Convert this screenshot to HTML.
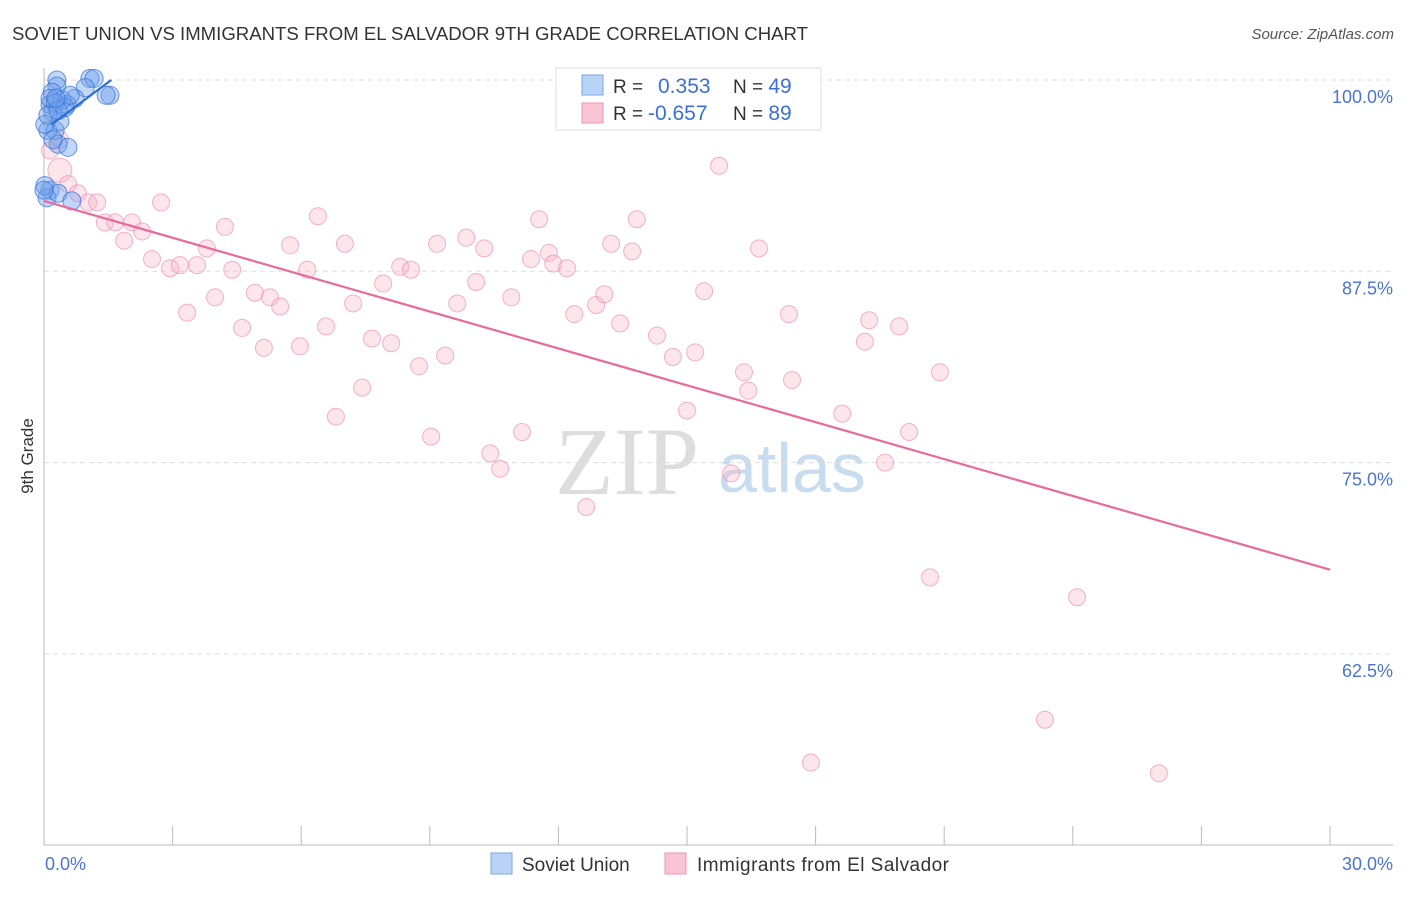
<!DOCTYPE html>
<html><head><meta charset="utf-8"><style>
body{margin:0;background:#fff;font-family:"Liberation Sans",sans-serif}
</style></head><body>
<svg width="1406" height="892" xmlns="http://www.w3.org/2000/svg" style="font-family:'Liberation Sans',sans-serif">
<text x="12" y="40" font-size="18" fill="#333" textLength="796" lengthAdjust="spacingAndGlyphs">SOVIET UNION VS IMMIGRANTS FROM EL SALVADOR 9TH GRADE CORRELATION CHART</text>
<text x="1394" y="39" font-size="15" fill="#555" text-anchor="end" font-style="italic">Source: ZipAtlas.com</text>
<text x="555" y="494" font-size="96" fill="#ddd" font-family="Liberation Serif,serif">ZIP</text>
<text x="718" y="492" font-size="70" fill="#c8dcf0">atlas</text>
<g id="grid"></g><g id="axes"></g><g id="pts"></g><g id="lines"></g>
<text x="33" y="456" font-size="17" fill="#333" text-anchor="middle" transform="rotate(-90 33 456)">9th Grade</text>
<text x="45" y="870" font-size="18" fill="#4a74d0">0.0%</text>
<text x="1393" y="870" font-size="18" fill="#4a74d0" text-anchor="end">30.0%</text>
<g>
<rect x="556" y="68" width="265" height="62" fill="#fff" stroke="#ddd"/>
<rect x="582" y="75" width="21" height="20" fill="#b9d3f5" stroke="#7aa6e6"/>
<rect x="582" y="103" width="21" height="20" fill="#f9c5d4" stroke="#ec94b0"/>
<text x="613" y="93" font-size="19" fill="#333">R = <tspan x="658" fill="#3a6fd6" font-size="21">0.353</tspan><tspan x="733" fill="#333">N = </tspan><tspan fill="#3a6fd6" font-size="21">49</tspan></text>
<text x="613" y="120" font-size="19" fill="#333">R = <tspan x="648" fill="#3a6fd6" font-size="21">-0.657</tspan><tspan x="733" fill="#333">N = </tspan><tspan fill="#3a6fd6" font-size="21">89</tspan></text>
</g>
<g>
<rect x="491" y="853" width="21" height="21" fill="#b9d3f5" stroke="#7aa6e6"/>
<text x="522" y="871" font-size="19" fill="#333">Soviet Union</text>
<rect x="665" y="853" width="21" height="21" fill="#f9c5d4" stroke="#ec94b0"/>
<text x="697" y="871" font-size="19" fill="#333" textLength="252">Immigrants from El Salvador</text>
</g>
</svg>
<script>
const yTicks=[100,87.5,75,62.5];
const yTickLabels=["100.0%","87.5%","75.0%","62.5%"];
const blueX=[0.30,0.30,1.07,1.17,1.54,1.45,0.96,0.72,0.54,0.14,0.21,0.09,0.26,0.33,0.56,0.14,0.07,0.33,0.65,0.37,0.19,0.42,0.14,0.02,0.26,0.49,0.09,0.21,0.61,0.02,0.0,0.33,0.28];
const blueY=[100.0,99.6,100.1,100.1,99.0,99.0,99.5,98.8,98.4,98.4,97.9,96.7,96.7,95.8,95.6,92.8,92.3,92.6,92.1,97.3,99.2,98.7,98.8,97.1,98.5,98.2,97.7,96.1,99.0,93.1,92.8,98.0,98.8];
const pinkX=[0.37,0.56,0.79,1.03,1.24,1.42,1.66,1.87,2.05,2.29,2.52,2.73,2.94,3.17,3.34,3.57,3.80,3.99,4.22,4.39,4.62,4.92,5.13,5.27,5.51,5.74,5.97,6.14,6.39,6.58,6.81,7.02,7.21,7.42,7.65,7.91,8.10,8.31,8.56,8.75,9.03,9.17,9.36,9.64,9.85,10.08,10.27,10.41,10.64,10.90,11.15,11.36,11.55,11.78,11.88,12.20,12.37,12.65,12.88,13.07,13.23,13.44,13.72,13.83,14.30,14.67,15.00,15.19,15.40,15.75,16.03,16.33,16.43,16.68,17.38,17.45,17.89,18.62,19.15,19.25,19.62,19.95,20.18,20.67,20.90,23.35,24.10,26.01,0.14,0.37];
const pinkY=[94.1,93.2,92.6,92.0,92.0,90.7,90.7,89.5,90.7,90.1,88.3,92.0,87.7,87.9,84.8,87.9,89.0,85.8,90.4,87.6,83.8,86.1,82.5,85.8,85.2,89.2,82.6,87.6,91.1,83.9,78.0,89.3,85.4,79.9,83.1,86.7,82.8,87.8,87.6,81.3,76.7,89.3,82.0,85.4,89.7,86.8,89.0,75.6,74.6,85.8,77.0,88.3,90.9,88.7,88.0,87.7,84.7,72.1,85.3,86.0,89.3,84.1,88.8,90.9,83.3,81.9,78.4,82.2,86.2,94.4,74.3,80.9,79.7,89.0,84.7,80.4,55.4,78.2,82.9,84.3,75.0,83.9,77.0,67.5,80.9,58.2,66.2,54.7,95.4,96.1];
const blueTrendX=[0.18,1.57], blueTrendY=[97.1,100.0];
const pinkTrendX=[0,30], pinkTrendY=[92.1,68.0];
const X=v=>44+v/30*1286, Y=v=>80+(100-v)/12.5*191.3;
const NS="http://www.w3.org/2000/svg";
function mk(p,t,a){const e=document.createElementNS(NS,t);for(const k in a)e.setAttribute(k,a[k]);document.getElementById(p).appendChild(e);return e;}
yTicks.forEach((t,i)=>{
 const l=mk('grid','line',{x1:44,x2:1393,y1:Y(t),y2:Y(t),stroke:'#ddd','stroke-dasharray':'5,4'});
 
 
 const tx=mk('grid','text',{x:1393,y:Y(t)+23,'font-size':18,fill:'#4a74d0','text-anchor':'end'});
 tx.textContent=yTickLabels[i];
 
 
});
let a=mk('axes','line',{x1:44,x2:44,y1:68,y2:845,stroke:'#bbb'});


a=mk('axes','line',{x1:44,x2:1393,y1:845,y2:845,stroke:'#bbb'});


for(let k=1;k<=10;k++){
 const t=mk('axes','line',{x1:X(k*3),x2:X(k*3),y1:826,y2:845,stroke:'#bbb'});
 
 
}
pinkX.forEach((x,i)=>{
 const c=mk('pts','circle',{cx:X(x),cy:Y(pinkY[i]),r:i==0?12:8.5,fill:'rgba(248,180,200,0.35)',stroke:'rgba(236,130,165,0.6)','stroke-width':1});
 
 
});
blueX.forEach((x,i)=>{
 const c=mk('pts','circle',{cx:X(x),cy:Y(blueY[i]),r:9,fill:'rgba(110,160,235,0.42)',stroke:'rgba(50,110,215,0.7)','stroke-width':1});
 
 
});
let tl=mk('lines','line',{x1:X(pinkTrendX[0]),y1:Y(pinkTrendY[0]),x2:X(pinkTrendX[1]),y2:Y(pinkTrendY[1]),stroke:'#e8699a','stroke-width':2.2});


tl=mk('lines','line',{x1:X(blueTrendX[0]),y1:Y(blueTrendY[0]),x2:X(blueTrendX[1]),y2:Y(blueTrendY[1]),stroke:'#2a6fd8','stroke-width':2.2});


</script>
</body></html>
